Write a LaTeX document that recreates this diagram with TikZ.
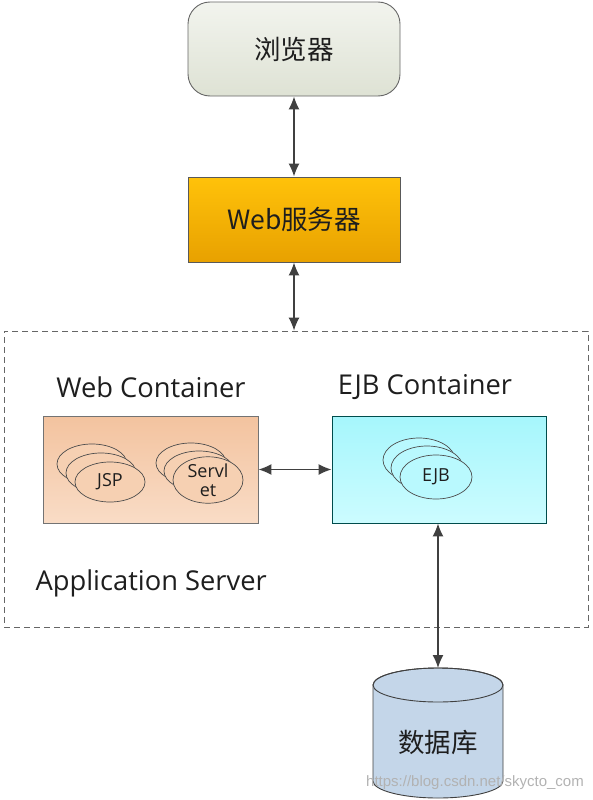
\documentclass[tikz,border=0pt]{standalone}
\usepackage{fontspec}
\setmainfont{Open Sans}
\newfontfamily\cjk{Noto Sans CJK SC}
\newfontfamily\markfont{Liberation Sans}
\usetikzlibrary{arrows.meta,shapes.geometric}

\definecolor{inkgray}{HTML}{1E1E1E}
\definecolor{arrowgray}{HTML}{404040}
\definecolor{browserTop}{HTML}{F2F4EE}
\definecolor{browserBot}{HTML}{DEE2D4}
\definecolor{serverTop}{HTML}{FFC20A}
\definecolor{serverBot}{HTML}{E8A100}
\definecolor{webTop}{HTML}{F3C39F}
\definecolor{webBot}{HTML}{F9DCC6}
\definecolor{ejbTop}{HTML}{A6F6FC}
\definecolor{ejbBot}{HTML}{CCFCFF}
\definecolor{dbFill}{HTML}{C4D6E9}

\tikzset{
	link/.style={{Latex[length=13pt,width=11pt]}-{Latex[length=13pt,width=11pt]}, line width=1.4pt, draw=arrowgray},
	tier/.style={minimum width=212pt, text=inkgray, font=\cjk\fontsize{26.5pt}{30pt}\selectfont},
	container/.style={draw, line width=0.9pt, minimum height=107pt},
	pageball/.style={ellipse, draw=black!70, line width=0.7pt, minimum width=70pt, minimum height=40pt, inner sep=0pt, text=inkgray, font=\fontsize{18pt}{19pt}\selectfont, align=center},
	caption/.style={text=inkgray, font=\fontsize{27.3pt}{31pt}\selectfont}
}

\begin{document}
\begin{tikzpicture}[x=1pt,y=-1pt]
	\useasboundingbox (0,0) rectangle (592,800);
	
	%Tiers
	\node (browser) at (294,49) [tier, draw=black!60, line width=0.9pt, rounded corners=22pt, minimum height=94pt,
	top color=browserTop, bottom color=browserBot]{浏览器};
	
	\node (webServer) at (294,219.5) [tier, draw=black!65, line width=0.9pt, minimum height=85pt,
	top color=serverTop, bottom color=serverBot]{Web服务器};
	
	\node (appServer) at (296,479) [draw=black!60, dash pattern=on 6pt off 4pt, line width=0.8pt,
	minimum width=584pt, minimum height=296pt]{};
	
	%Containers
	\node (webLabel) at (151,387) [caption]{Web Container};
	\node (ejbLabel) at (425,387) [caption]{EJB Container};
	\node (appLabel) at (32,583) [caption, anchor=west]{Application Server};
	
	\node (webCont) at (150.5,469.5) [container, draw=black!55, minimum width=215pt,
	top color=webTop, bottom color=webBot]{};
	
	\node (ejbCont) at (439,469.5) [container, draw=teal!60!black, minimum width=214pt,
	top color=ejbTop, bottom color=ejbBot]{};
	
	%Components
	\foreach \i/\d in {3/18,2/9}
	\node (jsp\i) at ({110-\d},{482-\d}) [pageball, fill=webTop!50!webBot]{};
	\node (jsp1) at (110,482) [pageball, fill=webTop!50!webBot]{JSP};
	
	\foreach \i/\d in {3/17,2/9}
	\node (servlet\i) at ({208-\d},{480-\d}) [pageball, fill=webTop!50!webBot]{};
	\node (servlet1) at (208,480) [pageball, fill=webTop!50!webBot]{Servl\\et};
	
	\foreach \i/\d in {3/17,2/9}
	\node (ejb\i) at ({436-\d},{477-\d}) [pageball, minimum width=72pt, minimum height=44pt, fill=ejbTop!50!ejbBot]{};
	\node (ejb1) at (436,477) [pageball, minimum width=72pt, minimum height=44pt, fill=ejbTop!50!ejbBot]{EJB};
	
	%Database
	\coordinate (dbLid) at (438,668);
	\filldraw[fill=dbFill, draw=black!75, line width=0.9pt] (373,685) -- (373,781)
	arc[start angle=180, end angle=360, x radius=65pt, y radius=17pt] -- (503,685)
	arc[start angle=0, end angle=180, x radius=65pt, y radius=17pt] -- cycle;
	\draw[black!75, line width=0.9pt] (438,685) ellipse[x radius=65pt, y radius=17pt];
	\node (db) at (438,742) [text=inkgray, font=\cjk\fontsize{26.5pt}{30pt}\selectfont]{数据库};
	
	\node (mark) at (475,783) [text=black!30, font=\markfont\fontsize{15pt}{18pt}\selectfont]{https://blog.csdn.net/skycto\_com};
	
	%Links
	\draw[link] (browser.south) -- (webServer.north);
	\draw[link] (webServer.south) -- (webServer.south |- appServer.north);
	\draw[link] (webCont.east) -- (ejbCont.west);
	\draw[link] (dbLid |- ejbCont.south) -- (dbLid);
\end{tikzpicture}
\end{document}
